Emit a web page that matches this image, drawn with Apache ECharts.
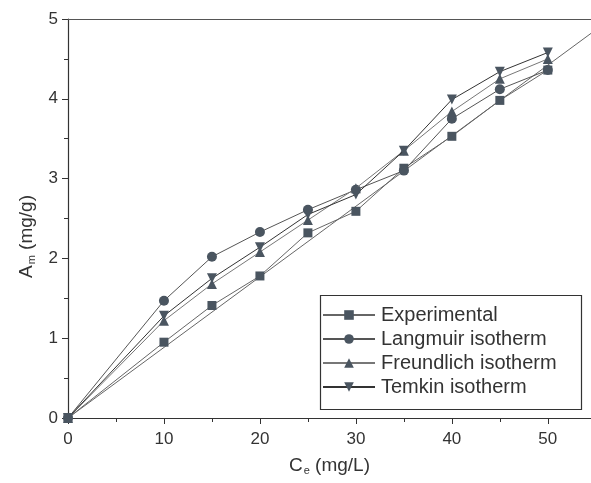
<!DOCTYPE html>
<html>
<head>
<meta charset="utf-8">
<script src="https://cdn.jsdelivr.net/npm/echarts@6/dist/echarts.min.js"></script>
<style>html,body{margin:0;padding:0;background:#fff;}#c{width:591px;height:483px;}</style>
</head>
<body>
<div id="c"></div>
<script>
var ce = [0, 10, 15, 20, 25, 30, 35, 40, 45, 50];
var experimental = [0, 0.95, 1.41, 1.78, 2.32, 2.59, 3.13, 3.53, 3.98, 4.36];
var langmuir = [0, 1.47, 2.02, 2.33, 2.61, 2.86, 3.10, 3.75, 4.12, 4.36];
var freundlich = [0, 1.22, 1.68, 2.08, 2.48, 2.88, 3.35, 3.84, 4.25, 4.50];
var temkin = [0, 1.28, 1.75, 2.14, 2.55, 2.80, 3.35, 3.99, 4.34, 4.58];
var refLineX = [0, 54.5];
var refLineY = [0, 4.82];
var names = ['Experimental', 'Langmuir isotherm', 'Freundlich isotherm', 'Temkin isotherm'];
var symbols = ['rect', 'circle', 'triangle', 'path://M0,0 L10,0 L5,9 Z'];

function pairs(xs, ys) { return xs.map(function (x, i) { return [x, ys[i]]; }); }

var FONT = '"Liberation Sans", Arial, sans-serif';
var markerColor = '#4a5560';
var lineColors = ['#666', '#555', '#777', '#333'];
var seriesData = [experimental, langmuir, freundlich, temkin];

var series = [{
  name: 'ref', type: 'line', data: pairs(refLineX, refLineY), symbol: 'none',
  lineStyle: { color: '#666', width: 1 }, silent: true, z: 1
}];
seriesData.forEach(function (d, i) {
  series.push({
    name: names[i], type: 'line', data: pairs(ce, d),
    symbol: symbols[i], symbolSize: i === 0 ? 9 : 10, showAllSymbol: true,
    itemStyle: { color: markerColor },
    lineStyle: { color: lineColors[i], width: 1 },
    z: 2 + i
  });
});

var chart = echarts.init(document.getElementById('c'), null, { renderer: 'canvas' });
chart.setOption({
  animation: false,
  backgroundColor: '#fff',
  textStyle: { fontFamily: FONT },
  grid: { left: 68, top: 19, right: 0, bottom: 65 },
  xAxis: [{
    type: 'value', min: 0, max: 54.5, interval: 10,
    name: '{a|C}{s|e}{a| (mg/L)}', nameLocation: 'middle', nameGap: 37,
    nameTextStyle: { rich: { a: { fontSize: 19, color: '#333', fontFamily: FONT }, s: { fontSize: 11, color: '#333', fontFamily: FONT, padding: [10, 0, 0, 1] } } },
    axisLine: { show: true, onZero: false, lineStyle: { color: '#333', width: 1.2 } },
    axisTick: { show: true, length: 6, lineStyle: { color: '#333' } },
    minorTick: { show: true, splitNumber: 2, length: 4, lineStyle: { color: '#333' } },
    axisLabel: { fontSize: 17, color: '#333', margin: 13, fontFamily: FONT, showMaxLabel: false },
    splitLine: { show: false }
  }, {
    type: 'value', position: 'top', min: 0, max: 54.5,
    axisLine: { show: true, onZero: false, lineStyle: { color: '#555', width: 1.2 } },
    axisTick: { show: false }, axisLabel: { show: false }, splitLine: { show: false }
  }],
  yAxis: {
    type: 'value', min: 0, max: 5, interval: 1,
    name: '{a|A}{s|m}{a| (mg/g)}', nameLocation: 'middle', nameGap: 30, nameRotate: 90,
    nameTextStyle: { padding: [0, 36, 0, 0], rich: { a: { fontSize: 19, color: '#333', fontFamily: FONT }, s: { fontSize: 11, color: '#333', fontFamily: FONT, padding: [10, 0, 0, 1] } } },
    axisLine: { show: true, onZero: false, lineStyle: { color: '#333', width: 1.2 } },
    axisTick: { show: true, length: 6, lineStyle: { color: '#333' } },
    minorTick: { show: true, splitNumber: 2, length: 4, lineStyle: { color: '#333' } },
    axisLabel: { fontSize: 17, color: '#333', margin: 10, fontFamily: FONT },
    splitLine: { show: false }
  },
  legend: {
    data: names, orient: 'vertical', left: 322, top: 305,
    itemWidth: 52, itemHeight: 12, itemGap: 4, padding: 0,
    textStyle: { fontSize: 20, color: '#333', fontFamily: FONT, lineHeight: 20, padding: [0, 0, 0, 1] }
  },
  graphic: [{
    type: 'rect', shape: { x: 320.5, y: 295.5, width: 261, height: 114 },
    style: { fill: 'none', stroke: '#333', lineWidth: 1.2 }, z: 100
  }],
  series: series
});
</script>
</body>
</html>
